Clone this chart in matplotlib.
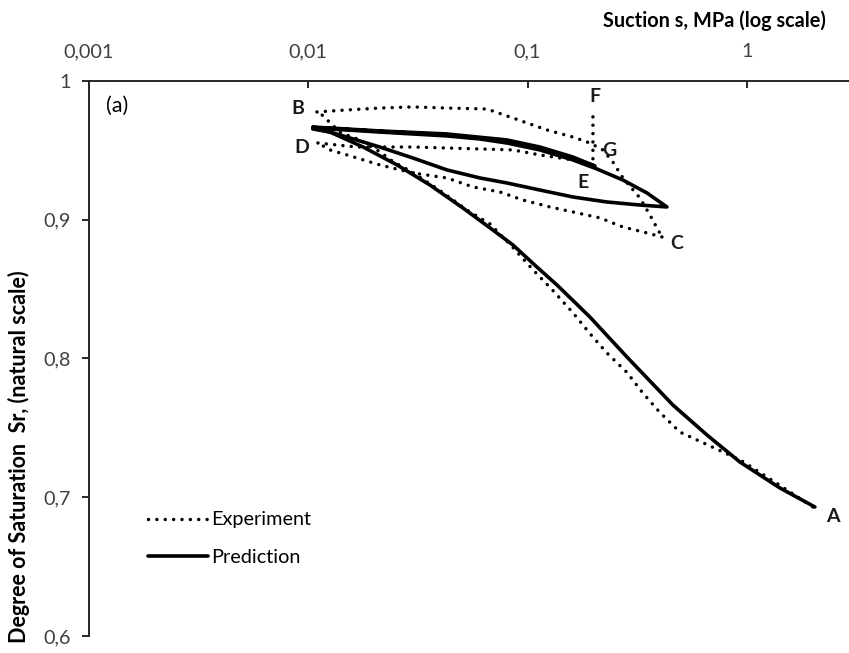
import matplotlib
matplotlib.use("Agg")
import matplotlib.pyplot as plt
from matplotlib.ticker import FixedLocator, FixedFormatter

plt.rcParams['font.family'] = ['Lato', 'DejaVu Sans']

# Experiment - wetting A -> B
expAB_s = [2.00, 1.371, 0.930, 0.700, 0.495, 0.402, 0.336, 0.284, 0.230, 0.1925, 0.161, 0.1305,
           0.1058, 0.0858, 0.0674, 0.0529, 0.0399, 0.0300, 0.0243, 0.0212, 0.0172, 0.01395, 0.01256, 0.0113]
expAB_sr = [0.693, 0.710, 0.727, 0.736, 0.747, 0.761, 0.775, 0.790, 0.804, 0.818, 0.833, 0.849,
            0.864, 0.880, 0.897, 0.907, 0.921, 0.934, 0.942, 0.949, 0.9575, 0.963, 0.970, 0.977]

# Experiment - drying B -> C (passing G)
expBC_s = [0.01096, 0.0150, 0.0212, 0.0300, 0.0429, 0.0653, 0.0858, 0.1226, 0.161, 0.1925,
           0.2207, 0.2451, 0.2723, 0.3255, 0.3615, 0.410]
expBC_sr = [0.9777, 0.9791, 0.9805, 0.9813, 0.9805, 0.9798, 0.9733, 0.9647, 0.9596, 0.9553,
            0.9503, 0.9416, 0.9301, 0.9157, 0.9034, 0.8876]

# Experiment - wetting C -> D
expCD_s = [0.410, 0.350, 0.272, 0.214, 0.161, 0.1265, 0.0953, 0.0748, 0.0564, 0.0429, 0.0300,
           0.0212, 0.0150, 0.01256, 0.01107]
expCD_sr = [0.8876, 0.8905, 0.8948, 0.9013, 0.9056, 0.9092, 0.9142, 0.9200, 0.9236, 0.9301, 0.9337,
            0.9395, 0.9467, 0.9503, 0.9553]

# Experiment - drying D -> E, then E -> F
expDF_s = [0.01107, 0.0167, 0.0300, 0.0607, 0.0858, 0.1139, 0.161, 0.1925, 0.1987, 0.1987]
expDF_sr = [0.9553, 0.9524, 0.9524, 0.9510, 0.9503, 0.9467, 0.9431, 0.9402, 0.9387, 0.9755]

# Prediction - main curve A -> D
predA_s = [2.044, 1.415, 0.930, 0.658, 0.460, 0.284, 0.1925, 0.1362, 0.1104, 0.0858, 0.0695,
           0.0507, 0.0359, 0.0254, 0.0178, 0.01256, 0.0105]
predA_sr = [0.693, 0.7067, 0.7254, 0.7449, 0.7665, 0.8011, 0.8299, 0.8530, 0.8659, 0.8818, 0.8926,
            0.9085, 0.9250, 0.9395, 0.9524, 0.9632, 0.9661]

# Prediction - loop D -> C -> D
predLoop_s = [0.0105, 0.0150, 0.0212, 0.0300, 0.0429, 0.0607, 0.0805, 0.1139, 0.161, 0.2072, 0.2723,
              0.3504, 0.4323, 0.3255, 0.2301, 0.161, 0.1139, 0.0805, 0.0607, 0.0429, 0.0300, 0.0212,
              0.0150, 0.01256, 0.0105]
predLoop_sr = [0.9661, 0.9647, 0.9632, 0.9618, 0.9604, 0.9582, 0.9553, 0.9503, 0.9431, 0.9366, 0.9286,
               0.9193, 0.9092, 0.9106, 0.9128, 0.9164, 0.9214, 0.9265, 0.9301, 0.9359, 0.9445, 0.9524,
               0.9596, 0.9632, 0.9654]

# Prediction - D -> E -> D
predE_s = [0.0105, 0.0212, 0.0429, 0.0805, 0.1139, 0.161, 0.2029, 0.161, 0.1139, 0.0805, 0.0429,
           0.0212, 0.0105]
predE_sr = [0.9668, 0.9640, 0.9618, 0.9575, 0.9524, 0.9452, 0.9387, 0.9440, 0.9512, 0.9565, 0.9612,
            0.9636, 0.9665]

labels = ['A', 'B', 'C', 'D', 'E', 'F', 'G']
label_s = [2.47, 0.00897, 0.48, 0.00936, 0.179, 0.203, 0.237]
label_sr = [0.686, 0.9805, 0.883, 0.9524, 0.927, 0.9885, 0.950]

fig = plt.figure(figsize=(8.49, 6.53), dpi=100)
ax = fig.add_axes([0.1048, 0.026, 0.8952, 0.850])

dot = dict(color='black', lw=2.5, linestyle=(0, (0.01, 2.4)), dash_capstyle='round')
sol = dict(color='black', lw=2.6, solid_capstyle='round')

ax.plot(expAB_s, expAB_sr, label='Experiment', **dot)
ax.plot(expBC_s, expBC_sr, **dot)
ax.plot(expCD_s, expCD_sr, **dot)
ax.plot(expDF_s, expDF_sr, **dot)
ax.plot(predA_s, predA_sr, label='Prediction', **sol)
ax.plot(predLoop_s, predLoop_sr, **sol)
ax.plot(predE_s, predE_sr, **sol)

for t, x, y in zip(labels, label_s, label_sr):
    ax.text(x, y, t, fontsize=14, fontweight='bold', ha='center', va='center', color='#1a1a1a')

ax.text(0.022, 0.955, '(a)', transform=ax.transAxes, fontsize=15.5, va='center', ha='left')

ax.set_xscale('log')
ax.set_xlim(0.001, 10 ** 0.466)
ax.set_ylim(0.6, 1.0)

ax.xaxis.set_major_locator(FixedLocator([0.001, 0.01, 0.1, 1]))
ax.xaxis.set_major_formatter(FixedFormatter(['0,001', '0,01', '0,1', '1']))
ax.xaxis.set_minor_locator(FixedLocator([]))
ax.set_yticks([0.6, 0.7, 0.8, 0.9, 1.0])
ax.set_yticklabels(['0,6', '0,7', '0,8', '0,9', '1'])

ax.xaxis.tick_top()
ax.tick_params(axis='x', direction='in', length=5, width=1.4, pad=15, labelsize=14.3,
               labelcolor='#404040', color='#262626')
ax.tick_params(axis='y', direction='out', length=5, width=1.4, pad=8, labelsize=14.3,
               labelcolor='#404040', color='#262626')

for sp in ['right', 'bottom']:
    ax.spines[sp].set_visible(False)
for sp in ['left', 'top']:
    ax.spines[sp].set_linewidth(1.4)
    ax.spines[sp].set_color('#262626')

fig.text(714 / 849, 1 - 21 / 653, 'Suction s, MPa (log scale)', fontsize=14.3, fontweight='bold',
         ha='center', va='center')
fig.text(0.022, 0.3, 'Degree of Saturation  Sr, (natural scale)', fontsize=15.5, fontweight='bold',
         rotation=90, ha='center', va='center')

ax.legend(loc='center left', bbox_to_anchor=(0.0776, 0.175), frameon=False, fontsize=14.3,
          handlelength=3.0, handletextpad=0.2, labelspacing=1.05, borderpad=0, borderaxespad=0)

fig.savefig('out.png', dpi=100)
